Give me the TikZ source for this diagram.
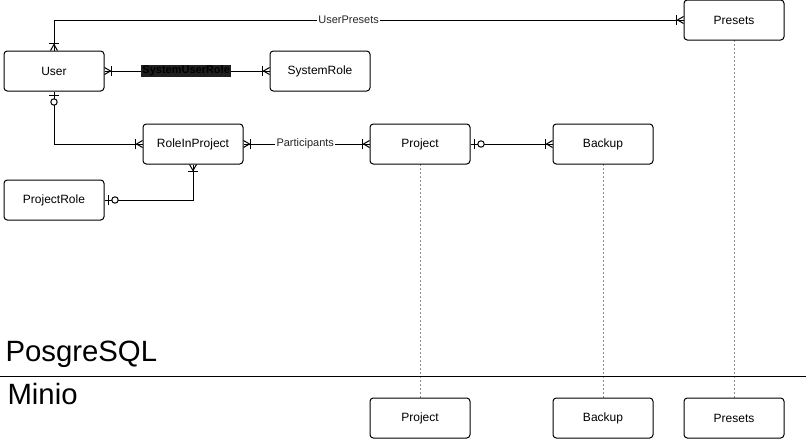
\documentclass[tikz,border=0pt]{standalone}
\usepackage{fontspec}
\setmainfont{Liberation Sans}
\tikzset{
  entity/.style={draw, rounded corners=2.5pt, minimum width=75pt, minimum height=30pt, inner sep=0pt, font=\fontsize{9}{10}\selectfont},
  rel/.style={fill=white, inner sep=1pt, font=\fontsize{8.25}{9}\selectfont, text=black!85},
  store/.style={anchor=base west, inner sep=0pt, font=\fontsize{22}{24}\selectfont},
  link/.style={draw=black!45, dash pattern=on 1.5pt off 1.5pt, line width=0.5pt},
  onemany/.pic={\draw (0,-3.5) -- (6,0) -- (0,3.5); \draw (7,-5) -- (7,5);},
  zeroone/.pic={\draw (3.5,-5) -- (3.5,5); \draw[fill=white] (10.5,0) circle[radius=2.4pt];}
}
\begin{document}
\begin{tikzpicture}[x=0.75pt, y=-0.75pt, line width=0.75pt]
\useasboundingbox (0,0) rectangle (806,439);
% dashed links between PosgreSQL and Minio
\draw[link] (420,164)--(420,398);
\draw[link] (603,164)--(603,398);
\draw[link] (734,40)--(734,398);
\draw (0,376)--(806,376);
\node[store] (pg) at (5,361) {PosgreSQL};
\node[store] (mn) at (7,404) {Minio};
% tables
\node[entity] (user) at (54,71) {User};
\node[entity] (sysrole) at (320,71) {SystemRole};
\node[entity] (presets) at (734,20) {Presets};
\node[entity] (rip) at (193,144) {RoleInProject};
\node[entity] (project) at (420,144) {Project};
\node[entity] (backup) at (603,144) {Backup};
\node[entity] (prole) at (54,200) {ProjectRole};
\node[entity] (mproject) at (420,418) {Project};
\node[entity] (mbackup) at (603,418) {Backup};
\node[entity] (mpresets) at (734,418) {Presets};
% relations
\draw (user.north) |- node[rel, pos=0.734] {UserPresets} (presets.west);
\draw (user.east) -- node[rel, pos=0.495, fill=black!88, text=black, font=\fontsize{8.25}{9}\selectfont\bfseries] {SystemUserRole} (sysrole.west);
\draw (user.south) |- (rip.west);
\draw (rip.east) -- node[rel, pos=0.49] {Participants} (project.west);
\draw (prole.east) -| (rip.south);
\draw (project.east) -- (backup.west);
\pic[rotate=90] at (user.north) {onemany};
\pic[rotate=180] at (presets.west) {onemany};
\pic at (user.east) {onemany};
\pic[rotate=180] at (sysrole.west) {onemany};
\pic[rotate=-90] at (user.south) {zeroone};
\pic[rotate=180] at (rip.west) {onemany};
\pic at (rip.east) {onemany};
\pic[rotate=180] at (project.west) {onemany};
\pic at (prole.east) {zeroone};
\pic[rotate=-90] at (rip.south) {onemany};
\pic at (project.east) {zeroone};
\pic[rotate=180] at (backup.west) {onemany};
\end{tikzpicture}
\end{document}
